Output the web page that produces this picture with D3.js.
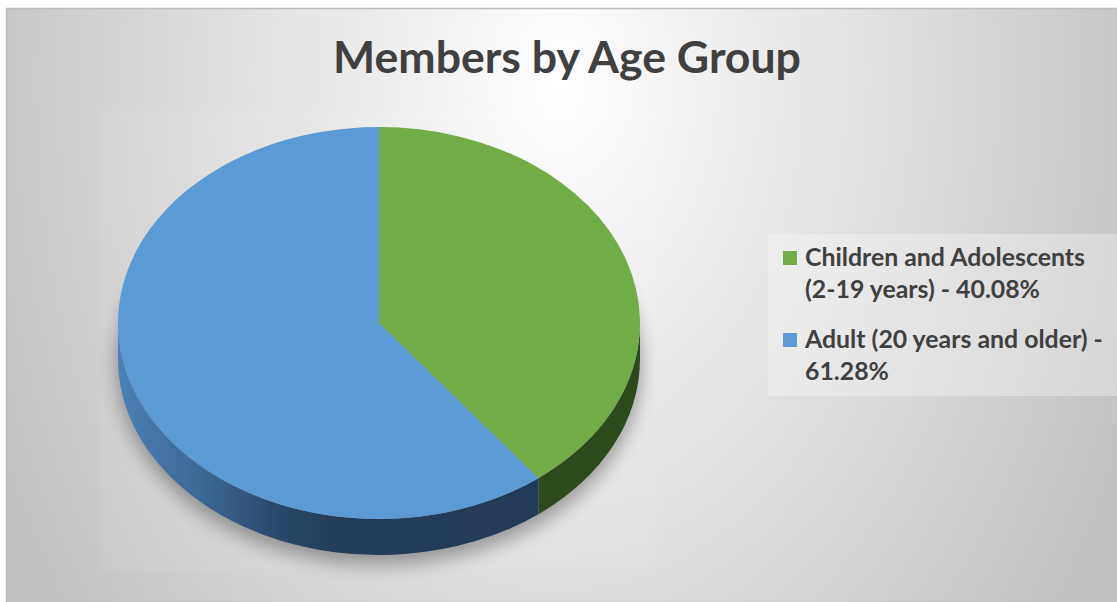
<!DOCTYPE html>
<html>
<head>
<meta charset="utf-8">
<script src="https://cdn.jsdelivr.net/npm/d3@7"></script>
<style>
  html, body { margin: 0; padding: 0; background: #ffffff; }
  svg { display: block; }
</style>
</head>
<body>
<svg id="chart" width="1117" height="602"></svg>
<script>
// ---- data ----
const title = "Members by Age Group";
const categories = ["Children and Adolescents (2-19 years)", "Adult (20 years and older)"];
const values = [40.08, 61.28];
const colors = ["#70ad47", "#5b9bd5"];
const legendLines = [
  ["Children and Adolescents", "(2-19 years) - 40.08%"],
  ["Adult (20 years and older) -", "61.28%"]
];

const svg = d3.select("#chart");
const W = 1117, H = 602;
const defs = svg.append("defs");

// background gradient
const bg = defs.append("radialGradient").attr("id", "bgGrad")
  .attr("gradientUnits", "userSpaceOnUse")
  .attr("cx", 0).attr("cy", 0).attr("r", 1)
  .attr("gradientTransform", "translate(560,80) scale(620,900)");
bg.append("stop").attr("offset", 0).attr("stop-color", "#ffffff");
bg.append("stop").attr("offset", 1).attr("stop-color", "#c2c2c2");

svg.append("rect").attr("x", 6.5).attr("y", 8.5).attr("width", W - 6).attr("height", H - 8)
  .attr("fill", "url(#bgGrad)").attr("stroke", "#bdbdbd").attr("stroke-width", 1.5);

// plot-area glow
const glow = defs.append("filter").attr("id", "glow").attr("x", "-20%").attr("y", "-20%").attr("width", "140%").attr("height", "140%");
glow.append("feGaussianBlur").attr("stdDeviation", 4);
svg.append("rect").attr("x", 100).attr("y", 110).attr("width", 556).attr("height", 461)
  .attr("fill", "#ffffff").attr("opacity", 0.06).attr("filter", "url(#glow)");

// pie geometry
const cx = 379, cy = 323, rx = 261, ry = 196, depth = 36;
const pie = d3.pie().sort(null).value(d => d)(values);
const pt = (a, dy = 0) => [cx + rx * Math.sin(a), cy - ry * Math.cos(a) + dy];

// shadow
const sh = defs.append("filter").attr("id", "shadow").attr("x", "-30%").attr("y", "-30%").attr("width", "160%").attr("height", "160%");
sh.append("feGaussianBlur").attr("stdDeviation", 9);
svg.append("ellipse").attr("cx", cx).attr("cy", cy + depth + 6).attr("rx", rx + 2).attr("ry", ry + 4)
  .attr("fill", "#000").attr("opacity", 0.32).attr("filter", "url(#shadow)");

// side gradient for blue
const sg = defs.append("linearGradient").attr("id", "blueSide")
  .attr("gradientUnits", "userSpaceOnUse").attr("x1", cx - rx).attr("x2", cx + rx).attr("y1", 0).attr("y2", 0);
[[0, "#4c80b6"], [0.16, "#3b6895"], [0.31, "#2a4869"], [0.42, "#233c58"], [1, "#223a55"]]
  .forEach(([o, c]) => sg.append("stop").attr("offset", o).attr("stop-color", c));
const sideFill = ["#2c4a1b", "url(#blueSide)"];

// side faces (front half: angles PI/2 .. 3PI/2)
pie.forEach((d, i) => {
  const s = Math.max(d.startAngle, Math.PI / 2);
  const e = Math.min(d.endAngle, 3 * Math.PI / 2);
  if (e <= s) return;
  const p0 = pt(s), p1 = pt(e), q1 = pt(e, depth), q0 = pt(s, depth);
  const large = (e - s) > Math.PI ? 1 : 0;
  const path = `M${p0}A${rx},${ry} 0 ${large} 1 ${p1}L${q1}A${rx},${ry} 0 ${large} 0 ${q0}Z`;
  svg.append("path").attr("d", path).attr("fill", sideFill[i]);
});

// top faces
pie.forEach((d, i) => {
  const p0 = pt(d.startAngle), p1 = pt(d.endAngle);
  const large = (d.endAngle - d.startAngle) > Math.PI ? 1 : 0;
  svg.append("path")
    .attr("d", `M${cx},${cy}L${p0}A${rx},${ry} 0 ${large} 1 ${p1}Z`)
    .attr("fill", colors[i]);
});

// title
const FONT = "Lato, 'Open Sans', 'DejaVu Sans', sans-serif";
const t = svg.append("text").attr("x", 567).attr("y", 73).attr("text-anchor", "middle")
  .attr("font-family", FONT).attr("font-weight", 700).attr("font-size", 40)
  .attr("fill", "#404040").text(title);
const tw = t.node().getComputedTextLength();
t.attr("font-size", 40 * 468 / tw);

// legend
svg.append("rect").attr("x", 768).attr("y", 234).attr("width", W - 768).attr("height", 162)
  .attr("fill", "#ffffff").attr("opacity", 0.3);

const probe = svg.append("text").attr("font-family", FONT).attr("font-weight", 700).attr("font-size", 20).text(legendLines[0][0]);
const lfs = 20 * 280 / probe.node().getComputedTextLength();
probe.remove();

const legendTop = [251, 333];
const legend = svg.append("g");
categories.forEach((c, i) => {
  const g = legend.append("g");
  g.append("rect").attr("x", 783).attr("y", legendTop[i]).attr("width", 14).attr("height", 14).attr("fill", colors[i]);
  const tx = g.append("text").attr("font-family", FONT).attr("font-weight", 700).attr("font-size", lfs).attr("fill", "#404040");
  legendLines[i].forEach((ln, j) => {
    tx.append("tspan").attr("x", 805).attr("y", legendTop[i] + 15 + j * 32).text(ln);
  });
});
</script>
</body>
</html>
